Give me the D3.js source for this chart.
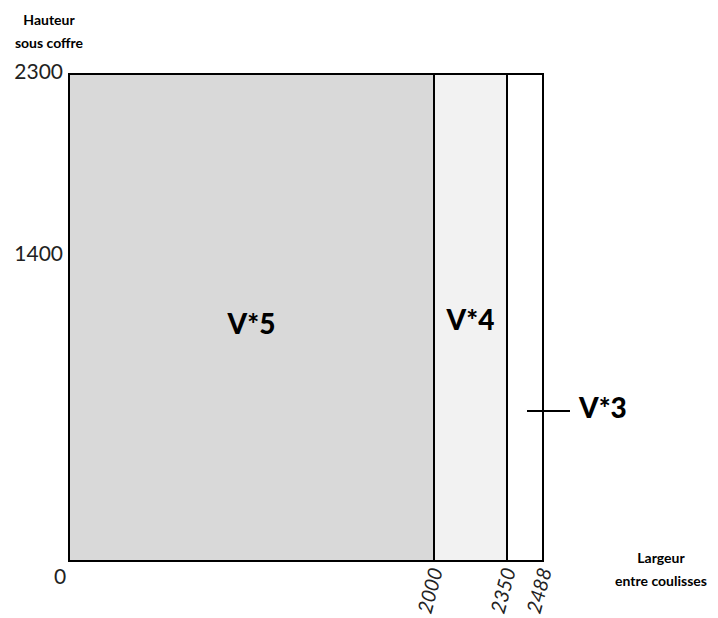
<!DOCTYPE html>
<html>
<head>
<meta charset="utf-8">
<script src="https://cdn.jsdelivr.net/npm/d3@7"></script>
<style>
  body { margin: 0; background: #fff; }
  text { font-family: Lato, "Open Sans", sans-serif; }
</style>
</head>
<body>
<svg id="chart"></svg>
<script>
// widths (largeur entre coulisses) where each zone ends
const zoneLimits = [2000, 2350, 2488];
const zoneLabels = ["V*5", "V*4", "V*3"];
const zoneFills = ["#d9d9d9", "#f2f2f2", "#ffffff"];
const maxHeight = 2300;
const yTicks = [1400, 2300];
const xTicks = [2000, 2350, 2488];

const svg_size = {width: 718, height: 618};
const svg = d3.select("#chart")
    .attr("width", svg_size.width)
    .attr("height", svg_size.height);

// the drawing is schematic, not to scale: piecewise scales
const x = d3.scaleLinear().domain([0, 2000, 2350, 2488]).range([69, 434, 507, 543]);
const y = d3.scaleLinear().domain([0, 1400, 2300]).range([561, 256, 74]);

const zones = zoneLimits.map((w, i) => ({
    x0: i === 0 ? 0 : zoneLimits[i - 1],
    x1: w,
    label: zoneLabels[i],
    fill: zoneFills[i]
}));

svg.selectAll("rect.zone")
    .data(zones)
    .enter()
    .append("rect")
    .attr("class", "zone")
    .attr("x", d => x(d.x0))
    .attr("y", y(maxHeight))
    .attr("width", d => x(d.x1) - x(d.x0))
    .attr("height", y(0) - y(maxHeight))
    .attr("fill", d => d.fill)
    .attr("stroke", "#000")
    .attr("stroke-width", 2);

// zone labels: V*5 and V*4 inside, V*3 outside with a leader line
const labelY = [327, 323];
zones.slice(0, 2).forEach((d, i) => {
    svg.append("text")
        .attr("x", (x(d.x0) + x(d.x1)) / 2)
        .attr("y", labelY[i])
        .attr("text-anchor", "middle")
        .attr("dominant-baseline", "middle")
        .attr("font-size", 28)
        .attr("font-weight", 900)
        .text(d.label);
});
const last = zones[2];
const leaderY = 411;
svg.append("line")
    .attr("x1", (x(last.x0) + x(last.x1)) / 2 + 2)
    .attr("x2", x(last.x1) + 27)
    .attr("y1", leaderY)
    .attr("y2", leaderY)
    .attr("stroke", "#000")
    .attr("stroke-width", 2);
svg.append("text")
    .attr("x", x(last.x1) + 36)
    .attr("y", leaderY)
    .attr("dominant-baseline", "middle")
    .attr("font-size", 28)
    .attr("font-weight", 900)
    .text(last.label);

// y tick labels
svg.selectAll("text.ytick")
    .data(yTicks)
    .enter()
    .append("text")
    .attr("class", "ytick")
    .attr("x", 63)
    .attr("y", d => y(d))
    .attr("text-anchor", "end")
    .attr("dominant-baseline", "middle")
    .attr("font-size", 21)
    .attr("fill", "#222")
    .text(d => d);

svg.append("text")
    .attr("x", x(0) - 9)
    .attr("y", 579)
    .attr("text-anchor", "middle")
    .attr("dominant-baseline", "middle")
    .attr("font-size", 21)
    .attr("fill", "#222")
    .text("0");

// x tick labels, slanted
svg.selectAll("text.xtick")
    .data(xTicks)
    .enter()
    .append("text")
    .attr("class", "xtick")
    .attr("transform", d => `translate(${x(d) + 9},${570}) rotate(-75)`)
    .attr("text-anchor", "end")
    .attr("font-size", 20)
    .attr("font-style", "italic")
    .attr("fill", "#222")
    .text(d => d);

// axis titles
svg.append("text")
    .attr("text-anchor", "middle")
    .attr("font-size", 14)
    .attr("font-weight", "bold")
    .selectAll("tspan")
    .data(["Hauteur", "sous coffre"])
    .enter()
    .append("tspan")
    .attr("x", 49)
    .attr("y", (d, i) => 25 + i * 23)
    .text(d => d);

svg.append("text")
    .attr("text-anchor", "middle")
    .attr("font-size", 14)
    .attr("font-weight", "bold")
    .selectAll("tspan")
    .data(["Largeur", "entre coulisses"])
    .enter()
    .append("tspan")
    .attr("x", 661)
    .attr("y", (d, i) => 563 + i * 23)
    .text(d => d);
</script>
</body>
</html>
